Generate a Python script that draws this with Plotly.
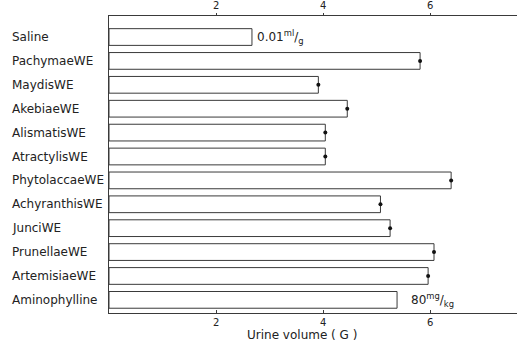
import plotly.graph_objects as go

categories = ["Saline", "PachymaeWE", "MaydisWE", "AkebiaeWE", "AlismatisWE",
              "AtractylisWE", "PhytolaccaeWE", "AchyranthisWE", "JunciWE",
              "PrunellaeWE", "ArtemisiaeWE", "Aminophylline"]
urine_volume = [2.67, 5.81, 3.91, 4.45, 4.04, 4.04, 6.39, 5.07, 5.25, 6.07, 5.96, 5.38]
tick_vals = [2, 4, 6]
tick_text = ["2", "4", "6"]
dose_saline = "0.01<sup>ml</sup>/<sub>g</sub>"
dose_amino = "80<sup>mg</sup>/<sub>kg</sub>"

W, H = 518, 348
ML, MR, MT, MB = 109, 1, 16, 35
pw, ph = W - ML - MR, H - MT - MB
XR = [0, 7.62]

line_col = "#3a3a3a"
font = dict(family="DejaVu Sans", size=12, color="#222")
tfont = dict(family="DejaVu Sans", size=10, color="#222")

fig = go.Figure()
fig.add_trace(go.Bar(
    x=urine_volume, y=categories, orientation="h", width=0.7,
    marker=dict(color="white", line=dict(color=line_col, width=1)),
    showlegend=False, hoverinfo="skip"))

we_idx = [i for i, c in enumerate(categories) if c.endswith("WE")]
fig.add_trace(go.Scatter(
    x=[urine_volume[i] for i in we_idx], y=[categories[i] for i in we_idx],
    mode="markers", marker=dict(color="#111", size=4, symbol="circle"),
    showlegend=False, hoverinfo="skip"))

# invisible trace for top axis
fig.add_trace(go.Scatter(x=XR, y=[categories[0], categories[0]], xaxis="x2",
                         mode="markers", marker=dict(opacity=0), showlegend=False,
                         hoverinfo="skip"))

for c in categories:
    fig.add_annotation(x=(10 - ML) / pw, xref="paper", y=c, yref="y", text=c,
                       showarrow=False, xanchor="left", yanchor="middle", font=font)

fig.add_annotation(x=urine_volume[0], y=categories[0], xref="x", yref="y",
                   text=dose_saline, showarrow=False, xanchor="left", xshift=3,
                   font=font)
fig.add_annotation(x=urine_volume[-1], y=categories[-1], xref="x", yref="y",
                   text=dose_amino, showarrow=False, xanchor="left", xshift=12,
                   font=font)
fig.add_annotation(x=(302 - ML) / pw, xref="paper", y=-(335 - (H - MB)) / ph,
                   yref="paper", text="Urine volume ( G )", showarrow=False,
                   xanchor="center", yanchor="middle", font=font)

fig.update_layout(
    width=W, height=H, margin=dict(l=ML, r=MR, t=MT, b=MB, autoexpand=False),
    paper_bgcolor="white", plot_bgcolor="white", bargap=0.3,
    xaxis=dict(range=XR, tickvals=tick_vals, ticktext=tick_text, showgrid=False,
               zeroline=False, showline=True, linecolor=line_col, linewidth=1,
               ticks="inside", ticklen=3, tickcolor=line_col, automargin=False,
               tickfont=tfont),
    xaxis2=dict(range=XR, overlaying="x", side="top", tickvals=tick_vals,
                ticktext=tick_text, showgrid=False, zeroline=False, showline=True,
                linecolor=line_col, linewidth=1, ticks="outside", ticklen=2,
                tickcolor=line_col, tickfont=tfont, automargin=False),
    yaxis=dict(type="category", categoryarray=categories, range=[11.55, -0.88],
               showticklabels=False, showgrid=False, zeroline=False, automargin=False,
               showline=True, linecolor=line_col, linewidth=1, ticks=""),
)

fig.write_html("out.html", config={"displayModeBar": False},
               post_script="document.body.style.margin='0';document.body.style.padding='0';")
